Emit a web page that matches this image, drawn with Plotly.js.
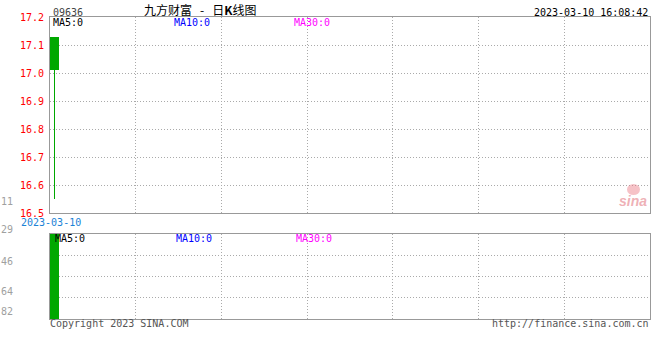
<!DOCTYPE html>
<html>
<head>
<meta charset="utf-8">
<script src="https://cdn.plot.ly/plotly-3.0.1.min.js"></script>
<style>html,body{margin:0;padding:0;background:#fff;}#chart{width:660px;height:360px;}</style>
</head>
<body>
<div id="chart"></div>
<script>
// ---- data ----
const stockCode = '09636';
const stockName = '九方财富';
const timestamp = '2023-03-10 16:08:42';
const dates = ['2023-03-10'];
const openP = [17.13];
const closeP = [17.01];
const highP = [17.13];
const lowP = [16.55];
const volumes = [2200000];
const priceTicks = [16.5, 16.6, 16.7, 16.8, 16.9, 17.0, 17.1, 17.2];
const maLabels = ['MA5:0', 'MA10:0', 'MA30:0'];
const cutLabels = ['11', '29', '46', '64', '82'];

const GREEN = '#00a800';
const mono = 'DejaVu Sans Mono';
const xs = dates.map((d, i) => i);
const nSlots = 66;
const vGrid = [];
for (let k = 1; k < 7; k++) vGrid.push(-0.5 + nSlots * k / 7);

const traces = [
  { // wick
    type: 'bar', x: xs, base: lowP, y: highP.map((h, i) => h - lowP[i]),
    width: 0.14, marker: { color: GREEN, line: { width: 0 } },
    xaxis: 'x', yaxis: 'y', hoverinfo: 'skip'
  },
  { // body
    type: 'bar', x: xs, base: closeP.map((c, i) => Math.min(c, openP[i])),
    y: closeP.map((c, i) => Math.abs(openP[i] - c)),
    width: 0.95, marker: { color: GREEN, line: { width: 0 } },
    xaxis: 'x', yaxis: 'y', hoverinfo: 'skip'
  },
  { // volume
    type: 'bar', x: xs, y: volumes, width: 0.95,
    marker: { color: GREEN, line: { width: 0 } },
    xaxis: 'x2', yaxis: 'y2', hoverinfo: 'skip'
  }
];

const axFrame = { showline: true, mirror: true, linecolor: '#999999', linewidth: 1, zeroline: false,
  gridcolor: '#aaaaaa', griddash: '1px,2px', gridwidth: 1 };

const maColors = ['#000000', '#0000ff', '#ff00ff'];
const maX = [52, 173, 293];
const ann = [];
function px(x, y, text, color, xanchor, size, family) {
  ann.push({ xref: 'paper', yref: 'paper', x: (x - 50) / 600, y: (319 - y) / 302,
    text: text, showarrow: false, xanchor: xanchor || 'left', yanchor: 'middle',
    font: { family: family || mono, size: size || 10, color: color }, borderpad: 0, xshift: 0 });
}
px(52, 12, stockCode, '#444444');
px(200, 10, stockName + '&nbsp;&nbsp;&nbsp;-&nbsp;&nbsp;&nbsp;日<b>K</b>线图', '#000000', 'center', 12, 'Noto Sans CJK SC');
px(649, 12, timestamp, '#000000', 'right');
maLabels.forEach((t, i) => { px(maX[i], 23, t, maColors[i]); px(maX[i] + 2, 238, t, maColors[i]); });
px(20, 222, dates[0], '#1a82d6');
const cutY = [201, 230, 261, 291, 311];
cutLabels.forEach((t, i) => px(14, cutY[i], t, '#a0a0a0', 'right'));
px(49, 323, 'Copyright 2023 SINA.COM', '#555555');
px(650, 323, 'http://finance.sina.com.cn', '#555555', 'right');
px(648, 201, '<i><b>sina</b></i>', 'rgba(225,110,120,0.55)', 'right', 14, 'Liberation Sans');

const layout = {
  width: 660, height: 360,
  margin: { l: 50, r: 10, t: 17, b: 41 },
  paper_bgcolor: '#ffffff', plot_bgcolor: '#ffffff',
  showlegend: false, barmode: 'overlay', bargap: 0,
  xaxis: Object.assign({}, axFrame, { domain: [0, 1], range: [-0.5, nSlots - 0.5], tickvals: vGrid,
    showticklabels: false, ticks: '', anchor: 'y' }),
  yaxis: Object.assign({}, axFrame, { domain: [(319 - 213) / 302, 1], range: [16.5, 17.2], tickvals: priceTicks,
    tickformat: '.1f', ticks: '', ticklabelstandoff: 3,
    tickfont: { family: mono, size: 10, color: '#ff0000' }, anchor: 'x' }),
  xaxis2: Object.assign({}, axFrame, { domain: [0, 1], range: [-0.5, nSlots - 0.5], tickvals: vGrid,
    showticklabels: false, ticks: '', anchor: 'y2' }),
  yaxis2: Object.assign({}, axFrame, { domain: [0, (319 - 234) / 302], range: [0, volumes[0]],
    tickvals: [volumes[0] / 4, volumes[0] / 2, volumes[0] * 3 / 4], showticklabels: false, ticks: '', anchor: 'x2' }),
  annotations: ann,
  shapes: [
    { type: 'circle', xref: 'paper', yref: 'paper',
      x0: (627 - 50) / 600, x1: (640 - 50) / 600, y0: (319 - 195) / 302, y1: (319 - 184) / 302,
      fillcolor: 'rgba(235,120,130,0.45)', line: { width: 0 } }
  ]
};

Plotly.newPlot('chart', traces, layout, { displayModeBar: false, staticPlot: true });
</script>
</body>
</html>
